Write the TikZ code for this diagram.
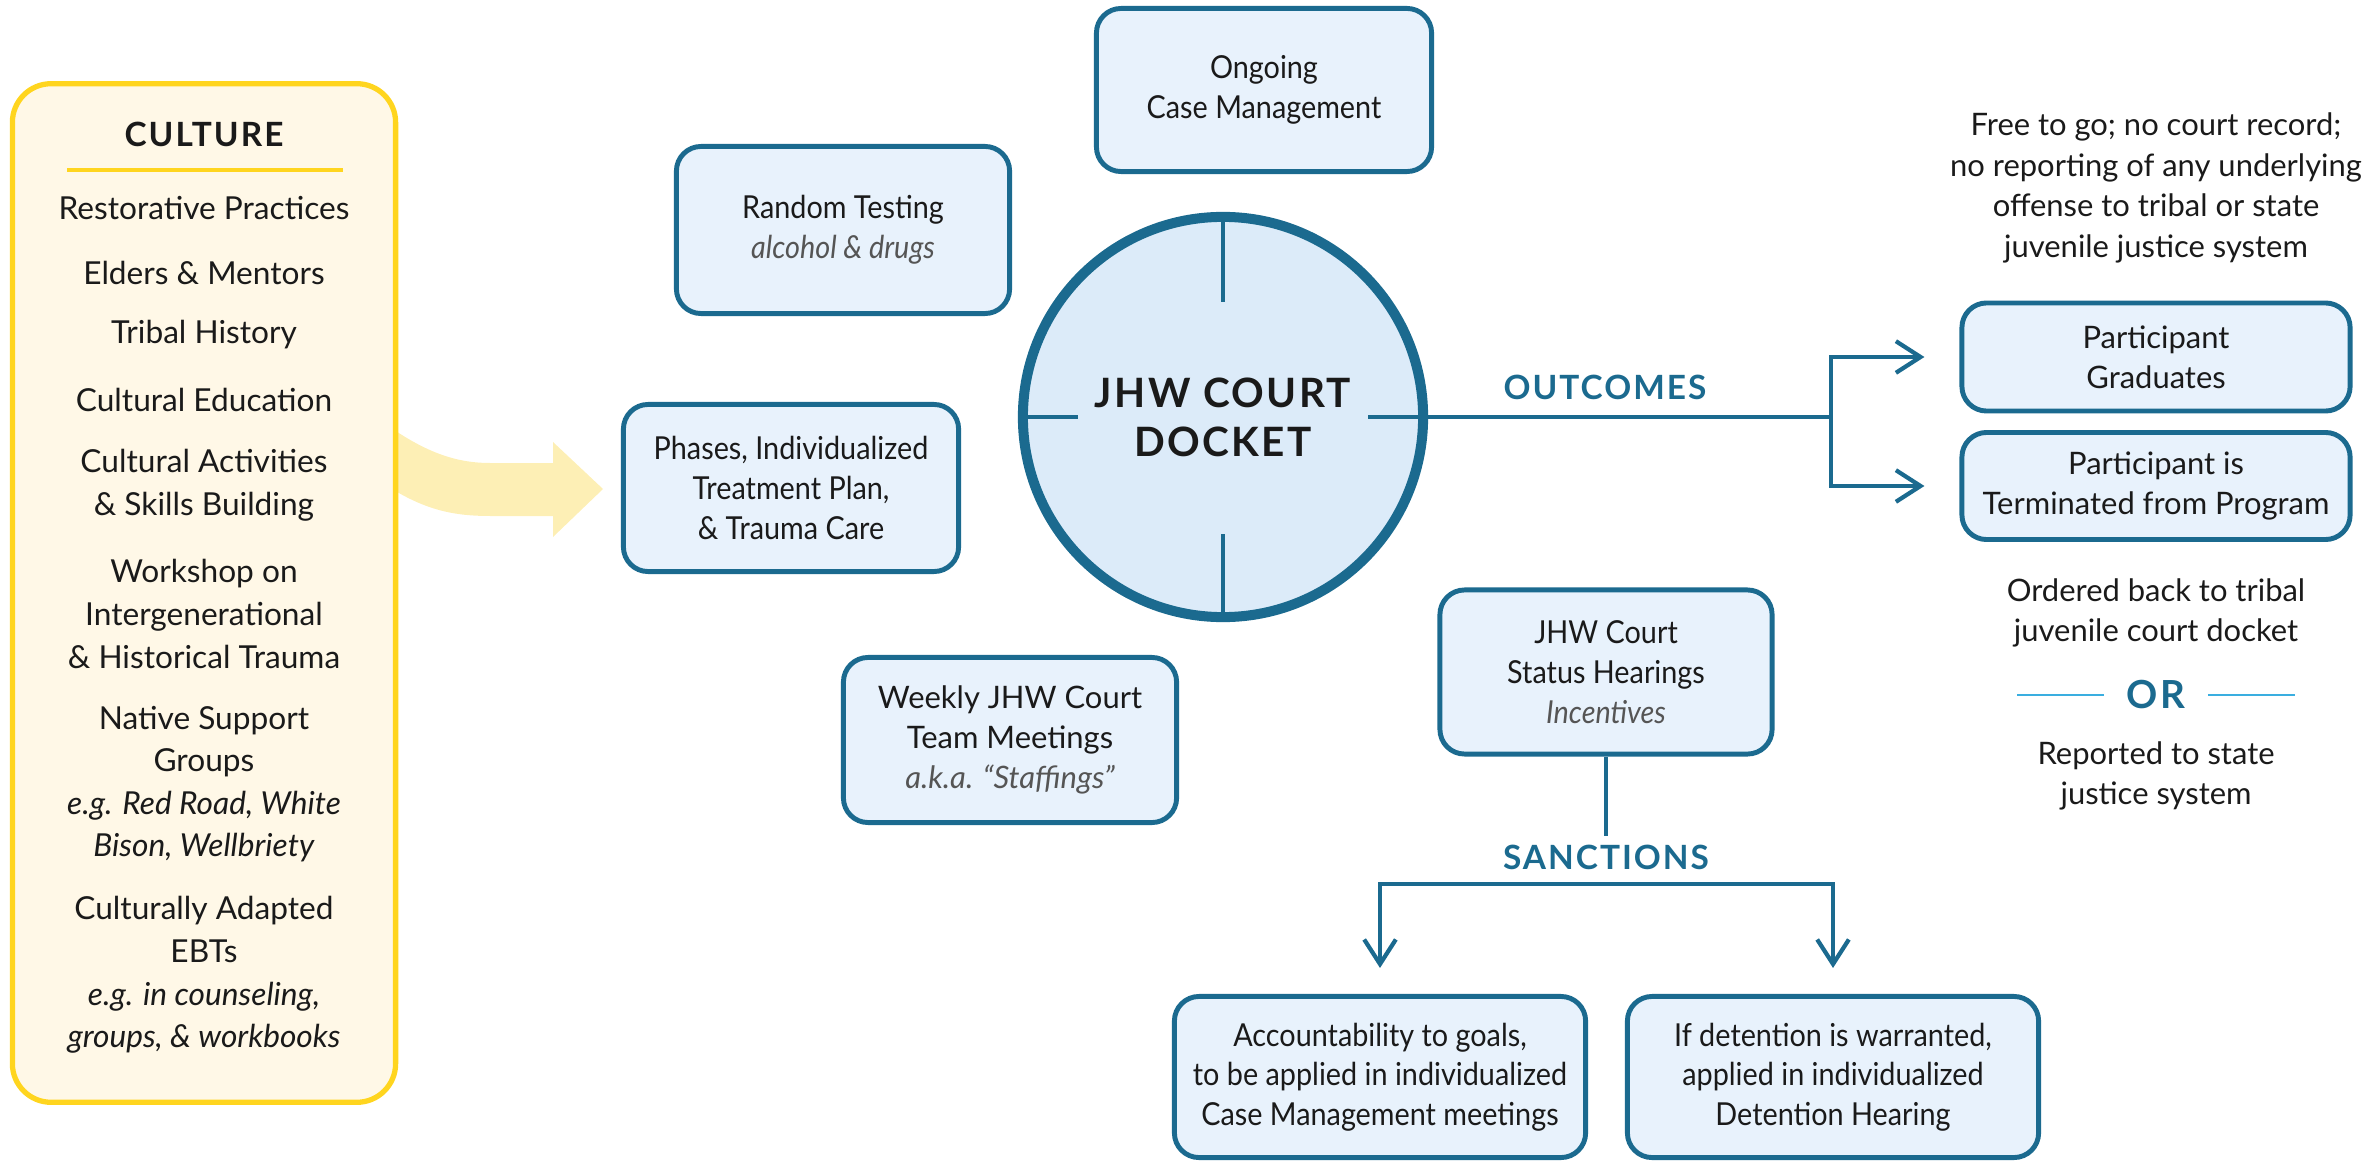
\documentclass[tikz,border=0pt]{standalone}
\usepackage{fontspec}
\setmainfont{Lato}
\newfontfamily\condfont{Lato}[FakeStretch=0.91]
\newfontfamily\capsfont{Lato}[LetterSpace=6]
\usetikzlibrary{arrows.meta,positioning,calc}

\definecolor{jhwteal}{HTML}{1B6A8F}
\definecolor{boxfill}{HTML}{E8F2FC}
\definecolor{circfill}{HTML}{DCEBF9}
\definecolor{culfill}{HTML}{FFF8E7}
\definecolor{culgold}{HTML}{FFD51F}
\definecolor{cularrow}{HTML}{FDEFB5}
\definecolor{orblue}{HTML}{3AAEE0}
\definecolor{notegray}{HTML}{555555}
\definecolor{ink}{HTML}{1A1A1A}

\newcommand{\boxnote}[1]{{\itshape\color{notegray}#1}}

\begin{document}
\begin{tikzpicture}[x=0.01cm, y=-0.01cm,
    box/.style={draw=jhwteal, fill=boxfill, line width=1.4pt, rounded corners=7pt,
      align=center, inner sep=0pt, text=ink, font=\condfont\fontsize{9}{11.3}\selectfont},
    widebox/.style={box, font=\fontsize{8.8}{11.3}\selectfont},
    item/.style={align=center, text=ink, inner sep=0pt, font=\fontsize{9}{12.1}\selectfont},
    head/.style={text=jhwteal, inner sep=0pt, font=\capsfont\bfseries\fontsize{9.5}{11}\selectfont},
    link/.style={draw=jhwteal, line width=1.2pt},
    arrow/.style={link, -{Straight Barb[length=7pt, width=9pt]}},
    tick/.style={draw=jhwteal, line width=0.9pt}]
  \useasboundingbox (0,0) rectangle (2379,1164);

  % yellow arrow from the culture box
  \fill[cularrow] (330,380) .. controls (400,440) and (440,463) .. (490,463) -- (553,463)
    -- (553,442) -- (603,489) -- (553,537) -- (553,516) -- (490,516)
    .. controls (440,516) and (400,505) .. (330,440) -- cycle;

  % culture box
  \node[draw=culgold, fill=culfill, line width=1.5pt, rounded corners=11pt,
    minimum width=3.83cm, minimum height=10.18cm] (cul) at (204,593) {};
  \node[head, text=ink] (culhead) at (204,134) {CULTURE};
  \draw[culgold, line width=1pt] (67,170) -- (343,170);
  \node[item] (c1) at (204,208) {Restorative Practices};
  \node[item] (c2) at (204,273) {Elders \& Mentors};
  \node[item] (c3) at (204,335) {Tribal History};
  \node[item] (c4) at (204,400) {Cultural Education};
  \node[item] (c5) at (204,485) {Cultural Activities\\\& Skills Building};
  \node[item] (c6) at (204,614) {Workshop on\\Intergenerational\\\& Historical Trauma};
  \node[item] (c7) at (204,784) {Native Support\\Groups\\\textit{e.g. Red Road, White}\\\textit{Bison, Wellbriety}};
  \node[item] (c8) at (204,975) {Culturally Adapted\\EBTs\\\textit{e.g. in counseling,}\\\textit{groups, \& workbooks}};

  % court docket
  \node[circle, draw=jhwteal, fill=circfill, line width=2.85pt, minimum size=4cm,
    inner sep=0pt, outer sep=0pt, align=center, text=ink,
    font=\capsfont\bfseries\fontsize{11.5}{14}\selectfont] (circ) at (1223,417) {JHW COURT\\DOCKET};
  \draw[tick] (circ.north) -- ++(0,85);
  \draw[tick] (circ.south) -- ++(0,-83);
  \draw[tick] (circ.west) -- ++(55,0);
  \draw[tick] (circ.east) -- ++(-55,0);

  % boxes round the docket
  \node[box, minimum width=3.35cm, minimum height=1.63cm] (ongoing) at (1264,90) {Ongoing\\Case Management};
  \node[box, minimum width=3.33cm, minimum height=1.67cm] (random) at (843,230) {Random Testing\\\boxnote{alcohol \& drugs}};
  \node[box, minimum width=3.35cm, minimum height=1.67cm] (phases) at (791,488) {Phases, Individualized\\Treatment Plan,\\\& Trauma Care};
  \node[widebox, minimum width=3.33cm, minimum height=1.65cm] (weekly) at (1010,740) {Weekly JHW Court\\Team Meetings\\\boxnote{a.k.a. “Staffings”}};
  \node[box, minimum width=3.32cm, minimum height=1.64cm] (status) at (1606,672) {JHW Court\\Status Hearings\\\boxnote{Incentives}};

  % outcomes
  \node[widebox, minimum width=3.88cm, minimum height=1.08cm] (grad) at (2156,357) {Participant\\Graduates};
  \node[widebox, minimum width=3.88cm, minimum height=1.07cm] (term) at (2156,486) {Participant is\\Terminated from Program};
  \draw[link] (circ.east) -- ++(408,0) coordinate (ofork);
  \node[head] (outlabel) at (1605,387) {OUTCOMES};
  \draw[arrow, shorten >=0.35cm] (ofork) |- (grad.west);
  \draw[arrow, shorten >=0.35cm] (ofork) |- (term.west);

  \node[item, font=\fontsize{8.8}{11.6}\selectfont] (free) at (2156,188) {Free to go; no court record;\\no reporting of any underlying\\offense to tribal or state\\juvenile justice system};
  \node[item, font=\fontsize{8.8}{11.6}\selectfont] (ordered) at (2156,613) {Ordered back to tribal\\juvenile court docket};
  \node[head, font=\capsfont\bfseries\fontsize{11}{12}\selectfont] (orword) at (2156,695) {OR};
  \draw[orblue, line width=0.8pt] ([xshift=-0.22cm]orword.west) -- ++(-87,0);
  \draw[orblue, line width=0.8pt] ([xshift=0.22cm]orword.east) -- ++(87,0);
  \node[item, font=\fontsize{8.8}{11.6}\selectfont] (reported) at (2156,776) {Reported to state\\justice system};

  % sanctions
  \node[box, minimum width=4.11cm, minimum height=1.61cm] (acc) at (1380,1077) {Accountability to goals,\\to be applied in individualized\\Case Management meetings};
  \node[box, minimum width=4.11cm, minimum height=1.61cm] (det) at (1833,1077) {If detention is warranted,\\applied in individualized\\Detention Hearing};
  \draw[link] (status.south) -- ++(0,79) coordinate (sstem);
  \node[head] (sanclabel) at (1606,857) {SANCTIONS};
  \coordinate (sbar) at (1606,884);
  \draw[arrow, shorten >=0.26cm] (sbar) -| (acc.north);
  \draw[arrow, shorten >=0.26cm] (sbar) -| (det.north);
\end{tikzpicture}
\end{document}
